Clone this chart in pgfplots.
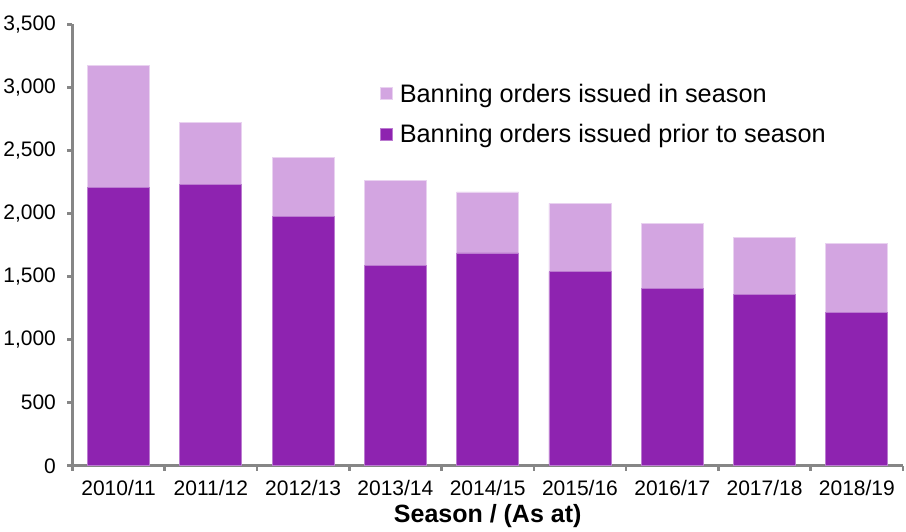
\documentclass[border=0pt]{standalone}
\usepackage{fontspec}
\setmainfont{Liberation Sans}
\usepackage{pgfplots}
\pgfplotsset{compat=1.18}
\usepackage{pgfplotstable}

\definecolor{prior}{HTML}{8E23B0}
\definecolor{inseason}{HTML}{D3A5E1}
\definecolor{axisgray}{HTML}{868686}

% season, prior to season, issued in season
\pgfplotstableread{
x prior inseason
0 2206 967
1 2230 494
2 1974 475
3 1588 677
4 1688 484
5 1538 544
6 1403 518
7 1358 455
8 1215 547
}\bandata

\begin{document}
\begin{tikzpicture}[x=1pt,y=1pt]
  % fixes page size to 906 x 531
  \path (0,0) rectangle (906,531);
  \begin{axis}[
      at={(72pt,65pt)}, anchor=south west,
      scale only axis,
      width=831pt, height=441.5pt,
      ybar stacked,
      bar width=62pt,
      xmin=-0.5, xmax=8.5,
      ymin=0, ymax=3500,
      ytick={0,500,...,3500},
      xtick={0,...,8},
      xticklabels={2010/11,2011/12,2012/13,2013/14,2014/15,2015/16,2016/17,2017/18,2018/19},
      minor xtick={-0.5,0.5,...,8.5},
      axis x line*=bottom,
      axis y line*=left,
      axis line style={axisgray, line width=2.6pt, -},
      major tick style={axisgray, line width=2.6pt},
      minor tick style={axisgray, line width=2.6pt},
      x tick style={draw=none},
      minor x tick style={draw=axisgray},
      tick align=outside,
      major tick length=5pt,
      minor tick length=5pt,
      /pgf/number format/assume math mode=true,
      /pgf/number format/.cd, 1000 sep={,}, /pgfplots/.cd,
      ticklabel style={font=\fontsize{21}{25}\selectfont, text=black},
      yticklabel style={xshift=-8pt},
      xticklabel style={yshift=-6pt},
      xlabel={\textbf{Season / (As at)}},
      xlabel style={font=\fontsize{25}{29}\selectfont, yshift=-2pt},
      legend style={
        at={(0.3665,0.875)}, anchor=north west,
        draw=none, fill=none,
        font=\fontsize{25.3}{29}\selectfont,
        row sep=17pt,
        /tikz/every odd column/.append style={column sep=5pt},
      },
      legend cell align=left,
      reverse legend,
      legend image code/.code={
        \fill[#1] (0pt,-6pt) rectangle (12pt,6pt);
      },
    ]
    \addplot[fill=prior, draw=prior!60!white, line width=0.8pt] table[x=x, y=prior] {\bandata};
    \addlegendentry{Banning orders issued prior to season}
    \addplot[fill=inseason, draw=inseason!50!white, line width=0.8pt] table[x=x, y=inseason] {\bandata};
    \addlegendentry{Banning orders issued in season}
  \end{axis}
\end{tikzpicture}
\end{document}
